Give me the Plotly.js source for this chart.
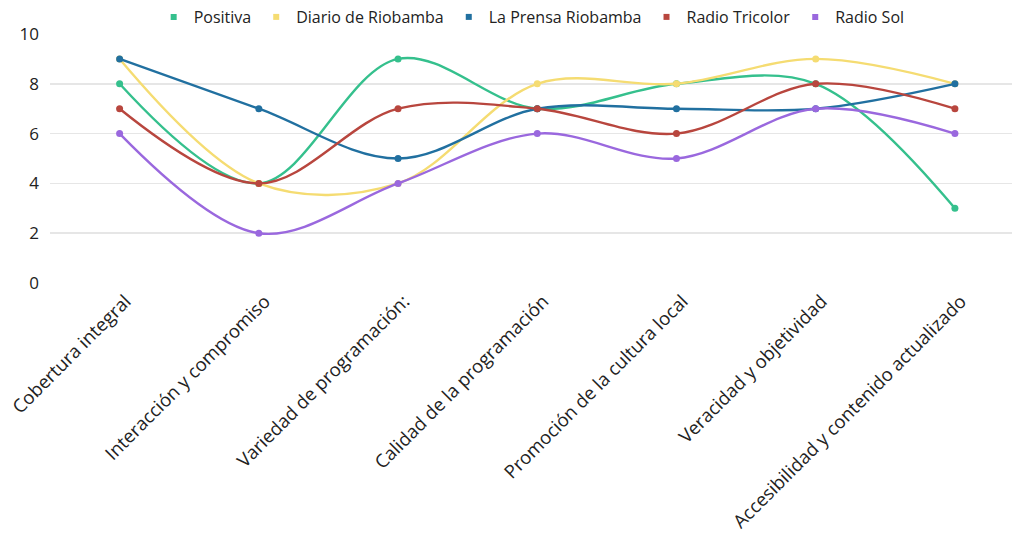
<!DOCTYPE html>
<html>
<head>
<meta charset="utf-8">
<script src="https://cdn.plot.ly/plotly-3.0.1.min.js"></script>
<style>html,body{margin:0;padding:0;background:#fff;}#chart{width:1012px;height:534px;}</style>
</head>
<body>
<div id="chart"></div>
<script>
const categories = ["Cobertura integral", "Interacción y compromiso", "Variedad de programación:", "Calidad de la programación", "Promoción de la cultura local", "Veracidad y objetividad", "Accesibilidad y contenido actualizado"];
const seriesNames = ["Positiva", "Diario de Riobamba", "La Prensa Riobamba", "Radio Tricolor", "Radio Sol"];
const positiva = [8, 4, 9, 7, 8, 8, 3];
const diarioRiobamba = [9, 4, 4, 8, 8, 9, 8];
const laPrensa = [9, 7, 5, 7, 7, 7, 8];
const radioTricolor = [7, 4, 7, 7, 6, 8, 7];
const radioSol = [6, 2, 4, 6, 5, 7, 6];
const colors = ["#35c08d", "#f5dc72", "#2170a0", "#b8463e", "#9a68de"];
const yTicks = [0, 2, 4, 6, 8, 10];

const allSeries = [positiva, diarioRiobamba, laPrensa, radioTricolor, radioSol];
const traces = [];
allSeries.forEach((vals, i) => {
  traces.push({
    x: categories, y: vals, type: 'scatter', mode: 'lines+markers',
    name: seriesNames[i], showlegend: false,
    line: {color: colors[i], width: 2.4, shape: 'spline', smoothing: 1},
    marker: {color: colors[i], size: 7}
  });
});
allSeries.forEach((vals, i) => {
  traces.push({
    x: [null], y: [null], type: 'scatter', mode: 'markers',
    name: seriesNames[i], showlegend: true,
    marker: {color: colors[i], size: 6, symbol: 'square'}
  });
});

const layout = {
  width: 1012, height: 534,
  margin: {l: 50, r: 0, t: 34, b: 251},
  paper_bgcolor: '#fff', plot_bgcolor: '#fff',
  font: {family: '"Open Sans", sans-serif', color: '#222', size: 15},
  showlegend: true,
  legend: {orientation: 'h', x: 0.5007, xanchor: 'center', y: 1.0, yanchor: 'top', yref: 'container',
           font: {size: 16, color: '#222'}, itemwidth: 30, tracegroupgap: 0, itemclick: false},
  xaxis: {
    type: 'category', range: [-0.5, 6.41], tickangle: -45,
    showgrid: false, zeroline: false, showline: false, ticks: '',
    tickfont: {size: 18.5, color: '#222'}, ticklabelshift: 6, ticklabelstandoff: 3
  },
  yaxis: {
    range: [0, 10], tickvals: yTicks, ticktext: yTicks.map(String),
    gridcolor: '#e6e6e6', gridwidth: 1.5, zeroline: false, showline: false, ticks: '',
    tickfont: {size: 17, color: '#222'}, ticklabelstandoff: 10
  }
};
Plotly.newPlot('chart', traces, layout, {displayModeBar: false, staticPlot: true});
</script>
</body>
</html>
